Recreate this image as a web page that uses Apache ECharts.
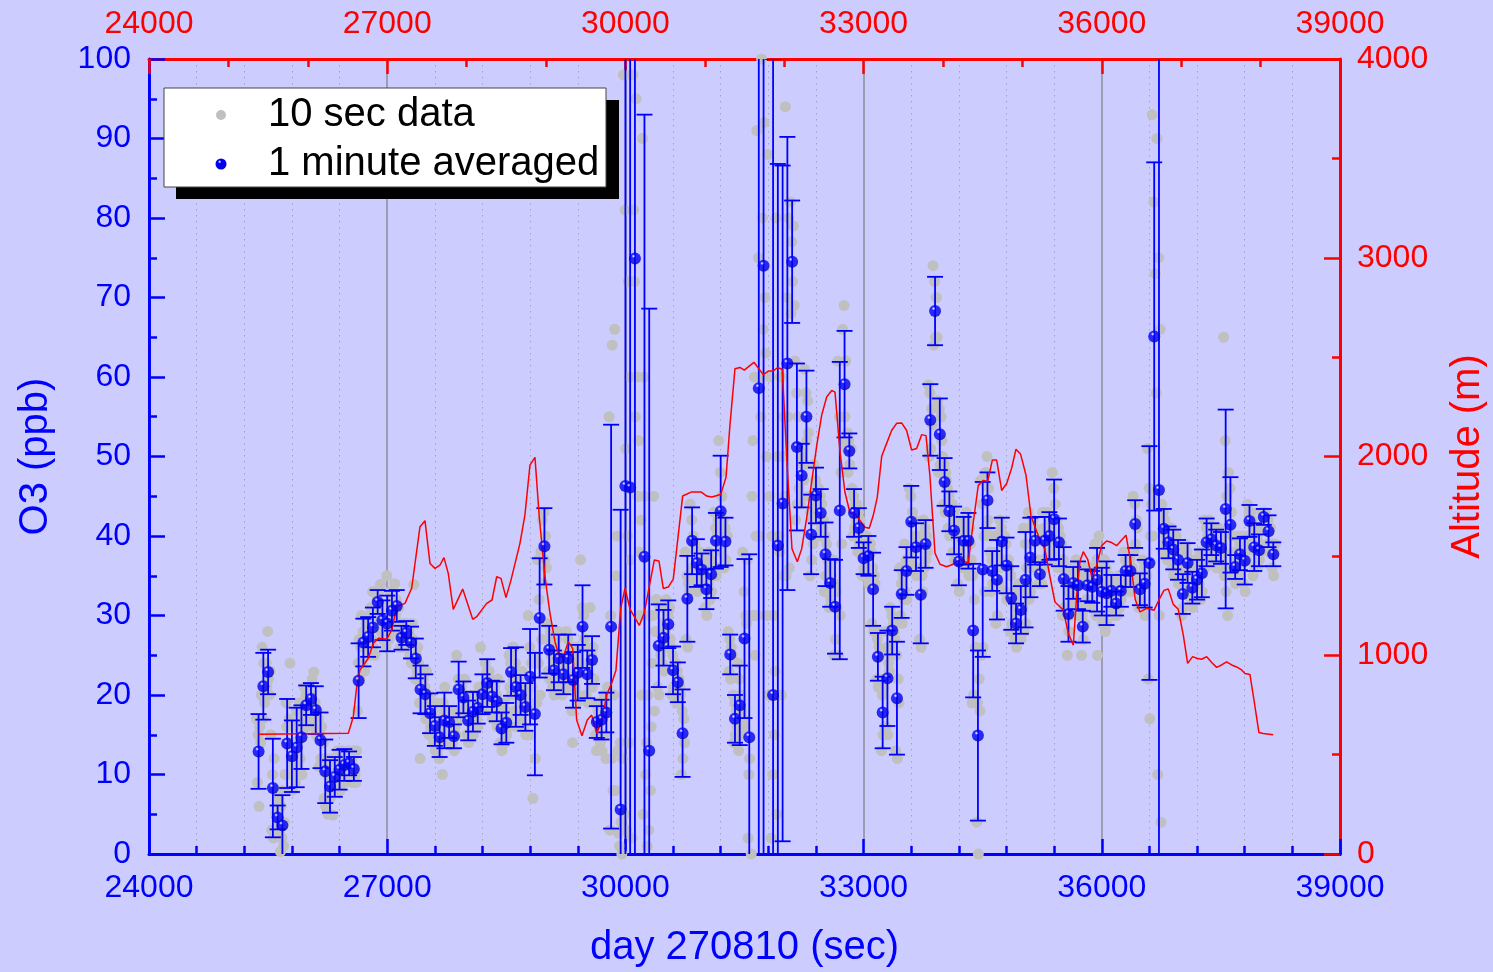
<!DOCTYPE html>
<html>
<head>
<meta charset="utf-8">
<script src="https://cdn.jsdelivr.net/npm/echarts@6/dist/echarts.min.js"></script>
<style>
  html, body { margin: 0; padding: 0; background: #ccccff; }
  #chart { width: 1493px; height: 972px; }
</style>
</head>
<body>
<div id="chart"></div>
<script>
// ---- axis ticks ----
const timeTicks = [24000, 27000, 30000, 33000, 36000, 39000];
const o3Ticks = [0, 10, 20, 30, 40, 50, 60, 70, 80, 90, 100];
const altTicks = [0, 1000, 2000, 3000, 4000];

// ---- 1 minute averages: first average at 25380 s, one per 60 s ----
const FIRST_MINUTE = 25380;
const MINUTE_STEP = 60;
const o3Minute = [
  12.9,21.1,22.9,8.3,4.6,3.6,13.9,12.3,13.4,14.7,
  18.7,19.5,18.1,14.3,10.4,8.5,9.7,10.6,11.2,11.4,
  10.7,21.8,26.6,27.3,28.5,31.7,29.4,29.0,30.6,31.2,
  27.2,27.8,26.6,24.6,20.7,20.1,17.7,16.1,14.7,16.8,
  16.6,14.8,20.7,19.7,16.8,17.9,18.4,20.1,21.5,19.8,
  19.2,15.8,16.5,22.9,21.0,20.0,18.5,22.3,17.6,29.7,
  38.7,25.7,23.1,24.6,22.6,24.6,21.9,22.8,28.6,22.6,
  24.4,16.6,16.9,17.8,28.6,null,5.6,46.3,46.1,74.9,
  null,37.4,13.0,null,26.2,27.2,28.9,23.1,21.6,15.2,
  32.1,39.4,36.6,35.8,33.3,35.2,39.4,43.1,39.3,25.1,
  17.0,18.7,27.1,14.7,null,58.6,74.0,null,20.0,38.8,
  44.1,61.7,74.5,51.2,47.6,55.0,40.2,45.1,42.9,37.7,
  34.1,31.1,43.2,59.1,50.7,42.9,41.0,37.2,37.5,33.3,
  24.8,17.8,22.1,28.1,19.6,32.7,35.6,41.8,38.6,32.6,
  39.0,54.6,68.3,52.8,46.8,43.1,40.7,36.8,39.4,39.4,
  28.1,14.9,35.8,44.5,35.6,34.5,39.3,36.3,32.2,29.0,
  30.7,34.5,37.3,39.4,35.2,39.4,40.0,42.1,39.2,34.6,
  30.2,34.1,33.8,28.6,33.8,33.6,34.5,33.0,32.8,33.1,
  31.5,33.1,35.6,35.6,41.5,33.3,34.0,36.6,65.1,45.8,
  40.9,39.2,38.3,37.0,32.7,36.6,33.5,34.5,35.3,39.2,
  39.6,38.8,38.5,43.4,41.4,36.1,37.7,36.9,41.9,38.6,
  38.2,42.4,40.6,37.7
];
const o3MinuteErr = [
  4.7,4.2,2.8,6.2,1.5,3.8,5.6,4.5,5,4,
  2.5,2,3,3.5,4,3.3,2.5,2.5,2,1.5,
  1.5,4.7,3,2.5,2.5,1.5,2.5,3.5,2.5,2,
  1.5,1.5,2,2.5,3,2.5,2.5,2.5,2.5,3.5,
  2,1.5,3.5,2,2.5,2.5,2,2.5,3,2,
  2.5,2,2.5,3,5,2.5,3,6,7.7,7.5,
  4.8,3,2.5,3,2.5,3,3.5,3.5,5.2,3,
  3,2,2.5,2.5,25.4,null,37.7,60,60,80,
  null,55.6,55.6,null,5.2,3.5,3,3,2.5,5.5,
  5.4,4.2,3,2,2.5,3,3.5,7,3,2.5,
  3,5,10,23,null,60,80,null,80,48,
  42.5,28.5,7.7,10.5,4,5.8,5,3.5,3,4,
  3,5.9,18.7,6.7,2.2,3,2.5,2,2.5,4.6,
  3,4.5,6,3,7.1,3,3,4.5,3,6.1,
  3,4.5,4.3,4.5,3,2.5,3,3,3,3.5,
  8.4,10.7,11,3.5,2.5,5,3,3.5,4,2.5,
  3,6,5,3,1.5,3,3,5,3,4,
  3.5,2,3,2,2,2,4,3,4,2,
  1.5,2,2,2,3,2,3,14.7,21.9,60,
  2.5,2,2.5,2.5,2.5,2.5,2,2.5,3,3,
  2,2,2,12.5,6,1.5,2,3,2,3,
  2,1,2,1.5
];

// ---- 10 s samples: one row per minute, six samples at -25,-15,-5,+5,+15,+25 s ----
const o3TenSec = [
  [17,9,15,6,16,14],[20,26,17,24,19,21],[24,21,28,22,20,23],[15,3,10,2,12,8],[5,3,6,4,7,3],
  [0.3,6,2,8,1,4],[10,19,16,8,14,17],[24,10,12,8,14,11],[16,9,18,11,14,12],[19,12,16,10,15,17],
  [21,17,20,16,19,18],[21,18,20,17,22,19],[22.9,16,19,15,18,17],[17,11,15,12,16,14],[14,7,12,6,11,10],
  [5,11,9,7,12,8],[4.9,11,10,12,9,11],[13,9,12,8,11,10],[13,10,12,9,11,12],[12,10,13,11,12,10],
  [12,9,11,13,10,9],[13,18,24,27,22,26],[30,24,28,27,23,28],[29,26,28,25,30,26],[31,27,33,26,29,25],
  [33,31,32,30,33,31],[33.9,28,30,27,29,28],[31,26,35,27,28,27],[33,29,32,28,31,30],[34,30,32,29,31,31],
  [28,26,29,27,26,27],[29,27,28,26,29,28],[28,25,27,24,29,27],[33.9,24,22,25,23,26],[24,19,12,22,23,21],
  [22,18,21,17,23,20],[19,15,20,16,18,17],[18,14,17,13,19,16],[13,16,12,17,15,14],[10,19,18,21,16,17],
  [18,15,17,14,18,17],[16,14,15,13,16,15],[25,18,22,17,21,21],[21,18,20,17,22,20],[19,15,17,14,18,18],
  [20,16,19,15,18,19],[20,17,19,16,21,18],[26,19,21,18,20,18],[24,19,23,18,22,23],[22,18,20,17,21,21],
  [21,17,20,16,22,19],[18,14,16,13,17,17],[19,14,18,15,17,16],[25,21,24,20,26,22],[26,18,24,16,22,20],
  [22,18,21,17,23,19],[21,16,20,15,19,20],[30,18,26,15,24,21],[7,25,19,12,24,19],[37,24,32,20,38,27],
  [42,34,43,37,40,36],[29,23,27,22,28,25],[25,21,24,20,26,23],[27,22,28,21,25,25],[25,20,24,21,23,23],
  [28,22,27,21,25,25],[25,18,14,23,26,21],[26,19,25,20,24,23],[37,24,31,23,30,27],[26,20,24,19,23,24],
  [31,22,25,21,26,22],[19,15,13,17,18,17],[19,14,18,13,19,18],[20,15,12,19,21,20],[55,3,30,12,64,8],
  [20,66,8,35,40,13],[2.6,1,14,4,0,12],[98,5,81,51,3,40],[72,14,60,37,98,2],[98,81,72,55,95,60],
  [45,52,38,30,42,20],[90,5,60,45,10,14],[1,20,3,30,8,16],[24,30,45,18,28,32],[32,21,28,20,31,25],
  [31,24,29,23,28,28],[32,26,30,27,31,27],[26,20,25,21,24,23],[24,19,23,20,22,21],[20,10,18,12,17,14],
  [38,27,35,26,34,33],[44,35,42,36,40,39],[39,34,38,33,37,38],[38,34,37,35,36,35],[36,31,35,30,34,34],
  [38,32,37,33,36,35],[43,36,41,35,40,42],[52,36,48,38,45,40],[42,36,41,37,40,40],[28,23,27,22,26,25],
  [20,14,19,15,18,16],[24,13,22,15,20,18],[38,17,33,16,30,29],[37,2,10,12,30,0],[45,52,30,60,25,40],
  [91,30,75,40,60,55],[100,80,66,92,70,63],[50,30,88,20,45,60],[2,40,10,30,15,23],[80,5,50,20,40,38],
  [60,20,50,35,55,45],[94,35,70,55,80,36],[82,68,77,72,79,69],[62,42,58,44,55,46],[51,44,50,45,49,47],
  [61,49,58,52,57,53],[45,35,43,37,42,39],[49,42,47,43,46,44],[46,40,45,41,44,41],[42,33,40,35,39,37],
  [37,31,36,32,35,34],[37,25,34,27,33,31],[62,25,55,30,48,39],[66,52,69,55,62,51],[53,48,52,49,51,51],
  [46,40,45,41,44,42],[44,38,43,39,42,40],[39,35,38,36,39,36],[40,35,39,34,38,39],[38,29,36,28,35,34],
  [28,22,27,21,26,25],[22,13,20,15,21,16],[28,16,26,15,24,23],[31,25,30,26,29,28],[27,13,25,12,22,19],
  [36,30,34,29,35,32],[39,33,37,32,36,37],[46,37,45,38,43,42],[42,36,40,35,39,40],[39,27,36,26,35,33],
  [42,36,41,37,40,38],[59,50,58,51,56,54],[74,64,72,65,70,65],[57,48,56,49,55,52],[50,44,49,43,48,47],
  [46,41,45,40,44,43],[44,38,43,37,42,40],[40,34,39,33,38,37],[42,36,41,37,40,40],[43,36,42,35,41,39],
  [37,19,35,20,32,26],[26,4,19,0,22,18],[47,25,44,26,40,33],[48,41,50,42,46,40],[38,33,37,34,36,36],
  [40,29,38,30,36,34],[42,36,41,37,40,40],[40,33,39,32,37,37],[36,28,35,29,33,32],[32,27,31,26,30,28],
  [34,28,33,27,31,31],[41,28,39,29,36,34],[43,32,41,33,39,36],[42,37,41,36,40,40],[37,34,36,34,36,34],
  [43,37,41,36,40,40],[43,37,42,38,41,39],[48,37,46,38,44,40],[42,36,41,37,40,39],[39,30,37,31,36,35],
  [34,25,33,28,31,30],[36,32,35,33,35,34],[37,31,36,30,35,34],[31,25,30,27,29,29],[36,32,35,31,35,34],
  [36,31,35,32,34,34],[39,30,37,25,36,40],[36,30,35,29,34,34],[37,28,36,29,34,33],[35,31,34,32,34,33],
  [33,30,32,30,32,32],[35,31,34,32,34,33],[38,33,37,34,36,36],[38,34,37,33,36,36],[45,38,44,39,42,41],
  [35,31,34,32,34,34],[37,31,36,30,35,35],[51,22,46,17,40,44],[93,40,82,45,73,58],[90,10,75,30,66,4],
  [44,38,43,39,42,40],[41,37,40,38,41,38],[41,36,40,35,39,39],[40,35,39,34,38,36],[35,30,34,31,33,33],
  [39,34,38,35,37,37],[36,32,35,31,34,33],[37,32,36,33,35,34],[38,32,37,33,36,36],[42,36,41,37,40,39],
  [42,38,41,37,40,40],[41,37,40,36,39,40],[41,36,40,37,39,38],[65,35,52,33,45,30],[48,35,46,36,43,40],
  [38,35,37,34,37,36],[40,36,39,35,39,37],[40,34,39,33,38,37],[44,40,43,40,43,42],[42,35,41,36,40,38],
  [40,36,39,37,39,38],[43,41,43,42,43,42],[42,39,42,38,41,41],[39,36,39,35,38,39]
];
const TEN_SEC_OFFSETS = [-25, -15, -5, 5, 15, 25];

// ---- altitude track ----
const altTime = [
  25380,26510,26573,26616,26657,26762,26825,26888,26994,27057,
  27120,27224,27308,27413,27476,27539,27602,27665,27715,27769,
  27832,27951,28077,28127,28253,28320,28379,28433,28496,28559,
  28672,28735,28798,28861,28915,28987,29050,29113,29167,29218,
  29281,29336,29386,29453,29520,29575,29638,29701,29764,29827,
  29881,29941,29995,30058,30175,30238,30364,30423,30477,30540,
  30603,30721,30835,30952,31024,31087,31200,31267,31317,31380,
  31443,31497,31619,31737,31799,31862,31918,31976,32031,32098,
  32165,32220,32283,32346,32409,32472,32535,32598,32640,32702,
  32765,32828,32891,32954,33017,33071,33122,33172,33228,33290,
  33353,33416,33479,33542,33605,33668,33731,33786,33836,33899,
  33962,34046,34129,34214,34318,34381,34444,34507,34562,34621,
  34676,34739,34802,34865,34919,34978,35045,35108,35171,35221,
  35284,35347,35410,35515,35578,35641,35683,35725,35767,35822,
  35880,35935,35998,36061,36124,36187,36250,36305,36363,36421,
  36481,36565,36657,36724,36783,36837,36900,36963,37026,37081,
  37144,37195,37258,37321,37384,37446,37509,37572,37635,37698,
  37761,37803,37866,37920,37979,38034,38159
];
const altMeters = [
  602,607,691,842,926,985,1060,1085,1080,1127,
  1244,1261,1337,1647,1677,1462,1437,1454,1491,1412,
  1231,1333,1181,1194,1261,1278,1395,1387,1290,1378,
  1563,1706,1957,1996,1697,1395,1211,1068,993,993,
  1068,1035,674,595,674,699,607,666,800,859,
  925,1236,1337,1232,1150,1214,1479,1474,1336,1343,
  1383,1801,1822,1822,1801,1796,1809,1895,2158,2442,
  2448,2435,2474,2412,2430,2430,2448,2438,2000,1536,
  1470,1535,1690,1872,2053,2208,2299,2332,2324,2027,
  1820,1717,1712,1678,1644,1639,1704,1794,2001,2066,
  2131,2167,2169,2131,2033,2040,2110,2105,1898,1514,
  1458,1445,1458,1484,1463,1668,1854,1880,1874,1982,
  1982,1829,1864,1942,2037,2011,1907,1701,1633,1580,
  1532,1395,1268,1228,1110,1051,1296,1473,1521,1483,
  1385,1453,1551,1575,1567,1551,1580,1604,1473,1280,
  1218,1236,1226,1282,1326,1334,1256,1231,1102,959,
  993,985,980,993,964,939,951,967,951,941,
  926,908,903,766,611,606,600
];

// ---- colours & fonts ----
const BLUE = '#0000ff';
const RED = '#ff0000';
const GREY = '#c0c0c0';
const FONT = '"Liberation Sans", Arial, sans-serif';
// shaded sphere marker: small white highlight, saturated blue body, darker rim
const ball = {
  type: 'radial', x: 0.38, y: 0.3, r: 0.7,
  colorStops: [
    { offset: 0, color: '#ffffff' },
    { offset: 0.1, color: '#a0a0ff' },
    { offset: 0.22, color: '#0000ff' },
    { offset: 0.8, color: '#0000ee' },
    { offset: 1, color: '#00009a' }
  ]
};

// ---- series data ----
const minuteTime = o3Minute.map((_, i) => FIRST_MINUTE + i * MINUTE_STEP);
const minutePts = [];
const errBars = [];
o3Minute.forEach((v, i) => {
  if (v == null) return;
  minutePts.push([minuteTime[i], v]);
  errBars.push([minuteTime[i], v - o3MinuteErr[i], v + o3MinuteErr[i]]);
});
const tenSecPts = [];
o3TenSec.forEach((row, i) => {
  row.forEach((v, k) => tenSecPts.push([minuteTime[i] + TEN_SEC_OFFSETS[k], v]));
});
const altPts = altTime.map((t, i) => [t, altMeters[i]]);

function renderErrBar(params, api) {
  const t = api.value(0);
  const lo = api.coord([t, api.value(1)]);
  const hi = api.coord([t, api.value(2)]);
  const hw = 8;
  const style = { stroke: BLUE, lineWidth: 1.8 };
  return {
    type: 'group',
    children: [
      { type: 'line', shape: { x1: lo[0], y1: lo[1], x2: hi[0], y2: hi[1] }, style },
      { type: 'line', shape: { x1: lo[0] - hw, y1: lo[1], x2: lo[0] + hw, y2: lo[1] }, style },
      { type: 'line', shape: { x1: hi[0] - hw, y1: hi[1], x2: hi[0] + hw, y2: hi[1] }, style }
    ]
  };
}

const chart = echarts.init(document.getElementById('chart'), null, { renderer: 'canvas' });

const plainNumber = v => String(v);
const labelFont = { fontFamily: FONT, fontSize: 32, formatter: plainNumber };

chart.setOption({
  animation: false,
  backgroundColor: '#ccccff',
  grid: { left: 149, right: 153, top: 59, bottom: 118, containLabel: false, outerBoundsMode: 'none' },
  xAxis: [
    {
      type: 'value', position: 'bottom',
      min: timeTicks[0], max: timeTicks[timeTicks.length - 1], interval: 3000,
      name: 'day 270810 (sec)', nameLocation: 'middle', nameGap: 74,
      nameTextStyle: { color: BLUE, fontFamily: FONT, fontSize: 40 },
      axisLine: { show: true, onZero: false, lineStyle: { color: BLUE, width: 3 } },
      axisTick: { show: true, inside: true, length: 15, lineStyle: { color: BLUE, width: 2.5 } },
      minorTick: { show: true, splitNumber: 5, length: 8, lineStyle: { color: BLUE, width: 2.5 } },
      axisLabel: Object.assign({ color: BLUE, margin: 18 }, labelFont),
      splitLine: { show: true, lineStyle: { color: '#8c8c9c', width: 1.5 } },
      minorSplitLine: { show: true, lineStyle: { color: '#a4a4bc', width: 1, type: [1.5, 4.5] } }
    },
    {
      type: 'value', position: 'top',
      min: timeTicks[0], max: timeTicks[timeTicks.length - 1], interval: 3000,
      axisLine: { show: true, onZero: false, lineStyle: { color: RED, width: 3 } },
      axisTick: { show: true, inside: true, length: 15, lineStyle: { color: RED, width: 2.5 } },
      minorTick: { show: true, splitNumber: 3, length: 8, lineStyle: { color: RED, width: 2.5 } },
      axisLabel: Object.assign({ color: RED, margin: 19 }, labelFont),
      splitLine: { show: false }
    }
  ],
  yAxis: [
    {
      type: 'value', position: 'left',
      min: o3Ticks[0], max: o3Ticks[o3Ticks.length - 1], interval: 10,
      name: 'O3 (ppb)', nameLocation: 'middle', nameGap: 93, nameRotate: 90,
      nameTextStyle: { color: BLUE, fontFamily: FONT, fontSize: 40 },
      axisLine: { show: true, onZero: false, lineStyle: { color: BLUE, width: 3 } },
      axisTick: { show: true, inside: true, length: 16, lineStyle: { color: BLUE, width: 2.5 } },
      minorTick: { show: true, splitNumber: 2, length: 8, lineStyle: { color: BLUE, width: 2.5 } },
      axisLabel: Object.assign({ color: BLUE, margin: 18 }, labelFont),
      splitLine: { show: false }
    },
    {
      type: 'value', position: 'right',
      min: altTicks[0], max: altTicks[altTicks.length - 1], interval: 1000,
      name: 'Altitude (m)', nameLocation: 'middle', nameGap: 108, nameRotate: 90,
      nameTextStyle: { color: RED, fontFamily: FONT, fontSize: 40 },
      axisLine: { show: true, onZero: false, lineStyle: { color: RED, width: 3 } },
      axisTick: { show: true, inside: true, length: 16, lineStyle: { color: RED, width: 2.5 } },
      minorTick: { show: true, splitNumber: 2, length: 8, lineStyle: { color: RED, width: 2.5 } },
      axisLabel: Object.assign({ color: RED, margin: 17 }, labelFont),
      splitLine: { show: false }
    }
  ],
  series: [
    {
      name: '10 sec data', type: 'scatter', xAxisIndex: 0, yAxisIndex: 0,
      data: tenSecPts, symbol: 'circle', symbolSize: 11, clip: true,
      itemStyle: { color: GREY, opacity: 1 }, z: 1, silent: true
    },
    {
      name: 'error', type: 'custom', xAxisIndex: 0, yAxisIndex: 0,
      data: errBars, renderItem: renderErrBar, encode: { x: 0, y: [1, 2] },
      clip: true, z: 2, silent: true
    },
    {
      name: 'Altitude', type: 'line', xAxisIndex: 0, yAxisIndex: 1,
      data: altPts, showSymbol: false, symbol: 'none', clip: true,
      lineStyle: { color: RED, width: 1.5 }, z: 3, silent: true
    },
    {
      name: '1 minute averaged', type: 'scatter', xAxisIndex: 0, yAxisIndex: 0,
      data: minutePts, symbol: 'circle', symbolSize: 12, clip: true,
      itemStyle: { color: ball }, z: 4, silent: true
    }
  ],
  graphic: [
    { type: 'rect', shape: { x: 176, y: 100, width: 443, height: 99 }, style: { fill: '#000' }, z: 100 },
    { type: 'rect', shape: { x: 164, y: 88, width: 442, height: 99 }, style: { fill: '#fff', stroke: '#444', lineWidth: 1 }, z: 101 },
    { type: 'circle', shape: { cx: 221, cy: 115, r: 5 }, style: { fill: GREY }, z: 102 },
    { type: 'circle', shape: { cx: 221, cy: 164, r: 5.5 }, style: { fill: ball }, z: 102 },
    { type: 'text', x: 268, y: 115, z: 102,
      style: { text: '10 sec data', fill: '#000', font: '40px ' + FONT, verticalAlign: 'middle', textVerticalAlign: 'middle' } },
    { type: 'text', x: 268, y: 164, z: 102,
      style: { text: '1 minute averaged', fill: '#000', font: '40px ' + FONT, verticalAlign: 'middle', textVerticalAlign: 'middle' } }
  ]
});
</script>
</body>
</html>
